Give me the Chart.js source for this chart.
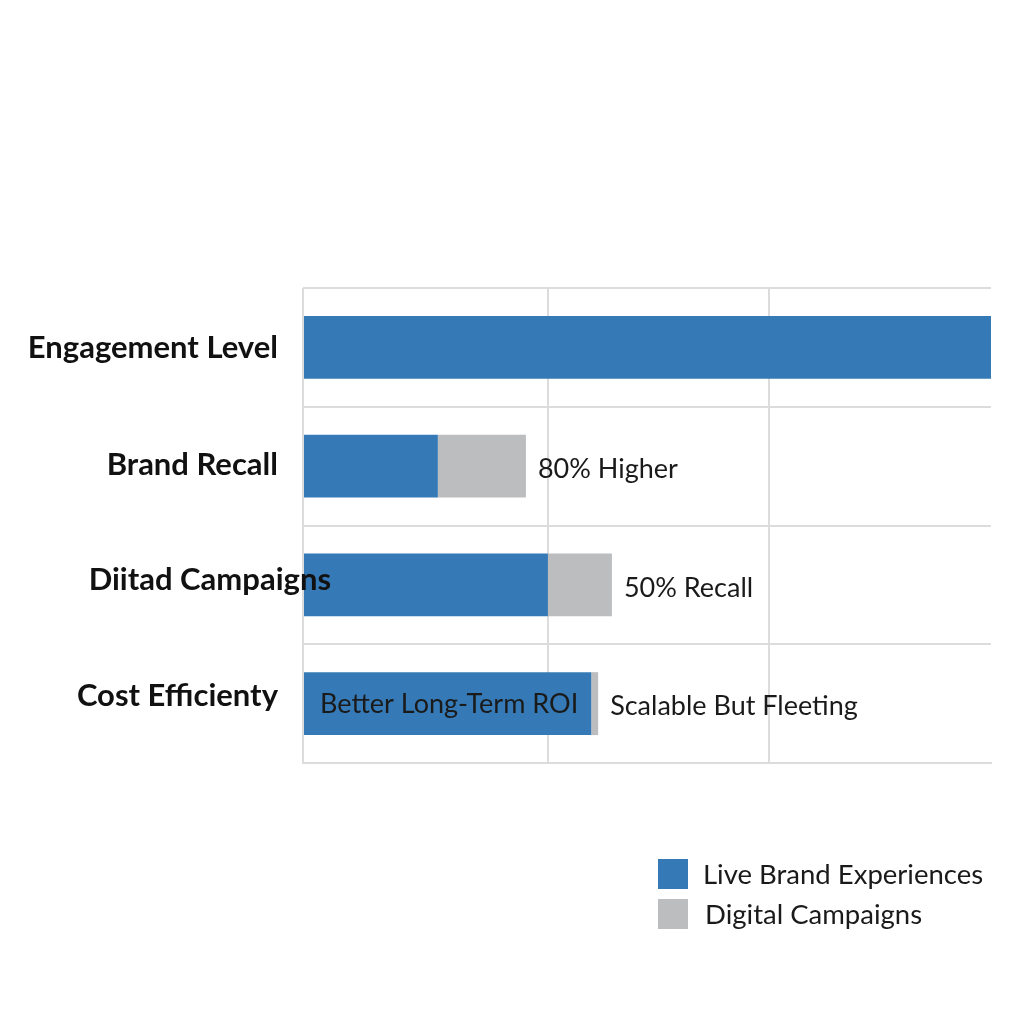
<!DOCTYPE html>
<html>
<head>
<meta charset="utf-8">
<script src="https://cdn.jsdelivr.net/npm/chart.js@4/dist/chart.umd.min.js"></script>
<style>
  html, body { margin: 0; padding: 0; background: #ffffff; }
  #wrap { width: 1024px; height: 1024px; position: relative; }
</style>
</head>
<body>
<div id="wrap"><canvas id="c" width="1024" height="1024"></canvas></div>
<script>
// ---- data ----
const categories = ["Engagement Level", "Brand Recall", "Diitad Campaigns", "Cost Efficienty"];
const seriesNames = ["Live Brand Experiences", "Digital Campaigns"];
const liveValues = [100, 19.6, 35.6, 41.9];
const digitalValues = [0, 12.8, 9.3, 1.0];
const afterNotes = ["", "80% Higher", "50% Recall", "Scalable But Fleeting"];
const insideNotes = ["", "", "", "Better Long-Term ROI"];
const xGridTicks = [0, 35.6, 67.7];
const xMax = 100;

const BLUE = "#357ab6";
const GRAY = "#bcbdbf";
const GRID = "#dcdcdc";
const FONT = "Lato, 'Open Sans', sans-serif";

const notesPlugin = {
  id: "notes",
  afterDatasetsDraw(chart) {
    const ctx = chart.ctx;
    const m0 = chart.getDatasetMeta(0);
    const m1 = chart.getDatasetMeta(1);
    const area = chart.chartArea;
    ctx.save();
    ctx.textBaseline = "middle";
    // category labels
    ctx.font = "bold 31px " + FONT;
    ctx.fillStyle = "#111111";
    ctx.textAlign = "right";
    const labelShift = [0, 0, 53, 0];
    const labelLift = [1, -1, -5, -8];
    categories.forEach((c, i) => {
      const y = chart.scales.y.getPixelForValue(i);
      ctx.fillText(c, area.left - 25 + labelShift[i], y + labelLift[i]);
    });
    // notes
    ctx.font = "27px " + FONT;
    ctx.fillStyle = "#1a1a1a";
    ctx.textAlign = "left";
    categories.forEach((c, i) => {
      const b0 = m0.data[i];
      const b1 = m1.data[i];
      if (insideNotes[i]) {
        ctx.fillText(insideNotes[i], b0.base + 16, b0.y + 1);
      }
      if (afterNotes[i]) {
        ctx.fillText(afterNotes[i], b1.x + 12, b1.y + 3);
      }
    });
    ctx.restore();
  },
  afterDraw(chart) {
    const ctx = chart.ctx;
    ctx.save();
    ctx.font = "27.5px " + FONT;
    ctx.textBaseline = "middle";
    ctx.textAlign = "left";
    chart.data.datasets.forEach((ds, i) => {
      const y = 874 + i * 40;
      ctx.fillStyle = ds.backgroundColor;
      ctx.fillRect(658, y - 15, 30, 30);
      ctx.fillStyle = "#1a1a1a";
      ctx.fillText(ds.label, 703 + i * 2, y + 1);
    });
    ctx.restore();
  }
};

new Chart(document.getElementById("c"), {
  type: "bar",
  data: {
    labels: categories,
    datasets: [
      { label: seriesNames[0], data: liveValues, backgroundColor: BLUE, borderWidth: 0 },
      { label: seriesNames[1], data: digitalValues, backgroundColor: GRAY, borderWidth: 0 }
    ]
  },
  options: {
    indexAxis: "y",
    responsive: false,
    animation: false,
    layout: { padding: { left: 303, right: 33, top: 288, bottom: 261 } },
    plugins: { legend: { display: false }, tooltip: { enabled: false }, title: { display: false } },
    scales: {
      x: {
        stacked: true,
        min: 0,
        max: xMax,
        afterBuildTicks(axis) { axis.ticks = xGridTicks.map(v => ({ value: v })); },
        ticks: { display: false },
        grid: { color: GRID, lineWidth: 2, drawTicks: false },
        border: { display: true, color: GRID, width: 2 }
      },
      y: {
        stacked: true,
        ticks: { display: false },
        grid: { color: GRID, lineWidth: 2, drawTicks: false, offset: true },
        border: { display: false }
      }
    },
    datasets: { bar: { categoryPercentage: 1.0, barPercentage: 0.53 } }
  },
  plugins: [notesPlugin]
});
</script>
</body>
</html>
